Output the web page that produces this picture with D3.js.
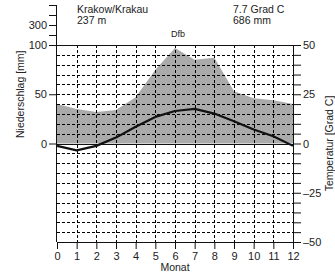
<!DOCTYPE html>
<html>
<head>
<meta charset="utf-8">
<script src="https://cdn.jsdelivr.net/npm/d3@7"></script>
<style>
  body { margin: 0; background: #fff; }
  svg { display: block; font-family: "Liberation Sans", Arial, sans-serif; }
  text { fill: #222; }
</style>
</head>
<body>
<script>
// Datos (mes 0 = diciembre repetido)
const meses = [0, 1, 2, 3, 4, 5, 6, 7, 8, 9, 10, 11, 12];
const niederschlag = [40, 35, 32, 34, 47, 75, 97, 85, 87, 53, 46, 44, 40];
const temperatur = [-1.2, -3.5, -1.2, 3, 8.5, 13.5, 16.5, 17.6, 15.2, 11.3, 7.1, 3.7, -1.2];
const stationText = ["Krakow/Krakau", "237 m"];
const klimaText = ["7.7 Grad C", "686 mm"];
const klimaTyp = "Dfb";
const ticksLinks = [0, 50, 100, 200, 300, 400, 500];
const labelsLinks = [0, 50, 100, 300];
const ticksRechts = d3.range(-50, 51, 5);

const W = 335, H = 275;
const mLeft = 57, mRight = 293, mTop = 45, mBottom = 242;

const svg = d3.select("body").append("svg")
  .attr("width", W).attr("height", H);

// Escalas
const x = d3.scaleLinear().domain([0, 12]).range([mLeft, mRight]);
const yT = d3.scaleLinear().domain([-50, 50]).range([mBottom, mTop]);
// Niederschlag: 0-100 mm = 0-50 Grad, arriba de 100 comprimido 1:10
const yP = d3.scaleLinear().domain([0, 100, 500]).range([yT(0), yT(50), yT(50) - 40]);

// Area de precipitacion
svg.append("path")
  .datum(meses)
  .attr("fill", "#aaaaaa")
  .attr("d", d3.area()
    .x(d => x(d))
    .y0(yT(0))
    .y1(d => yP(niederschlag[d])));

// Rejilla discontinua
svg.append("g")
  .selectAll("line")
  .data(ticksRechts.filter(d => d !== 0 && Math.abs(d) !== 50))
  .join("line")
  .attr("x1", mLeft).attr("x2", mRight)
  .attr("y1", d => Math.round(yT(d)) + 0.5).attr("y2", d => Math.round(yT(d)) + 0.5)
  .attr("stroke", "#000").attr("stroke-width", 1)
  .attr("stroke-dasharray", "3,2");

svg.append("g")
  .selectAll("line")
  .data(meses.filter(d => d > 0 && d < 12))
  .join("line")
  .attr("x1", d => Math.round(x(d)) + 0.5).attr("x2", d => Math.round(x(d)) + 0.5)
  .attr("y1", mTop).attr("y2", mBottom)
  .attr("stroke", "#000").attr("stroke-width", 1)
  .attr("stroke-dasharray", "3,2");

// Lineas solidas 100/50, 0 y -50
[50, 0, -50].forEach(v => {
  svg.append("line")
    .attr("x1", mLeft).attr("x2", mRight)
    .attr("y1", Math.round(yT(v)) + 0.5).attr("y2", Math.round(yT(v)) + 0.5)
    .attr("stroke", "#111").attr("stroke-width", 1);
});

// Eje izquierdo
const ejeL = svg.append("g")
  .attr("transform", `translate(${mLeft},0)`)
  .call(d3.axisLeft(yP).tickValues(ticksLinks)
    .tickFormat(d => labelsLinks.includes(d) ? d : "")
    .tickSize(8).tickPadding(2));

// Eje derecho
const ejeR = svg.append("g")
  .attr("transform", `translate(${mRight},0)`)
  .call(d3.axisRight(yT).tickValues(ticksRechts)
    .tickFormat(d => d % 25 === 0 ? String(d).replace("-", "\u2013") : "")
    .tickSize(8).tickPadding(2));

// Eje inferior
const ejeB = svg.append("g")
  .attr("transform", `translate(0,${mBottom})`)
  .call(d3.axisBottom(x).tickValues(meses).tickFormat(d3.format("d"))
    .tickSize(7).tickPadding(3));

[ejeL, ejeR, ejeB].forEach(g => {
  g.selectAll(".domain").attr("stroke", "#111");
  g.selectAll(".tick line").attr("stroke", "#111");
  g.selectAll("text").attr("font-size", 11).attr("font-family", "Liberation Sans, Arial, sans-serif").attr("fill", "#222");
});
ejeL.select(".domain").attr("d", `M-0.5,${yP(500)}V${mBottom}`);
ejeR.select(".domain").attr("d", `M0.5,${mTop}V${mBottom}`);
ejeB.select(".domain").attr("d", `M${mLeft},0.5H${mRight}`);

// Temperatura
svg.append("path")
  .datum(meses)
  .attr("fill", "none")
  .attr("stroke", "#111")
  .attr("stroke-width", 2.2)
  .attr("stroke-linejoin", "round")
  .attr("d", d3.line().x(d => x(d)).y(d => yT(temperatur[d])));

// Textos
const txt = svg.append("g").attr("font-size", 10.5);
stationText.forEach((t, i) => txt.append("text").attr("x", 77).attr("y", 13 + i * 11).text(t));
klimaText.forEach((t, i) => txt.append("text").attr("x", 233).attr("y", 13 + i * 11).text(t));
txt.append("text").attr("x", 178).attr("y", 37).attr("text-anchor", "middle")
  .attr("font-size", 9).text(klimaTyp);

svg.append("text").attr("x", (mLeft + mRight) / 2).attr("y", 271)
  .attr("text-anchor", "middle").attr("font-size", 10.5).text("Monat");

svg.append("text")
  .attr("transform", `translate(24,${(yT(0) + yT(50)) / 2}) rotate(-90)`)
  .attr("text-anchor", "middle").attr("font-size", 10.5).text("Niederschlag [mm]");

svg.append("text")
  .attr("transform", `translate(333,${(mTop + mBottom) / 2}) rotate(-90)`)
  .attr("text-anchor", "middle").attr("font-size", 10.5).text("Temperatur [Grad C]");
</script>
</body>
</html>
